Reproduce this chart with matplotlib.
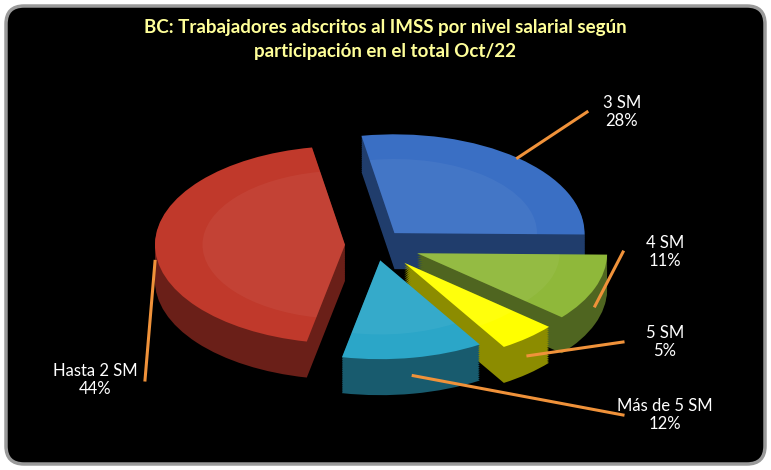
import matplotlib.pyplot as plt
import numpy as np
from matplotlib.patches import Wedge, FancyBboxPatch
from matplotlib.transforms import Affine2D
import matplotlib.colors as mcolors

plt.rcParams['font.family'] = ['Lato', 'DejaVu Sans']

labels = ["Hasta 2 SM", "Más de 5 SM", "5 SM", "4 SM", "3 SM"]
values = [44, 12, 5, 11, 28]
colors = ["#c0392b", "#2ba6c8", "#ffff00", "#8fb83a", "#3a6fc4"]
explode = [30, 30, 45, 45, 30]
label_pos = [(95, 380), (665, 415), (665, 342), (665, 252), (622, 112)]  # pixels

W, H = 771, 470
fig = plt.figure(figsize=(W / 100, H / 100), dpi=100)
fig.patch.set_facecolor("white")
ax = fig.add_axes([0, 0, 1, 1])
ax.set_xlim(0, W)
ax.set_ylim(0, H)
ax.axis("off")

ax.add_patch(FancyBboxPatch((6, 6), W - 12, H - 12, boxstyle="round,pad=0,rounding_size=18",
                            fc="black", ec="#9a9a9a", lw=2.5))

ax.text(W / 2, H - 40, "BC: Trabajadores adscritos al IMSS por nivel salarial según\nparticipación en el total Oct/22",
        ha="center", va="center", color="#ffff99", fontsize=13.5, fontweight="bold", linespacing=1.5)

cx, cy = 375, 225
r, ys, depth = 190, 0.52, 36
start = 100
angles = np.cumsum([0] + [v * 3.6 for v in values]) + start
base = Affine2D().scale(1, ys)

geo = []
for i in range(len(values)):
    t1, t2 = angles[i], angles[i + 1]
    mid = np.radians((t1 + t2) / 2)
    geo.append((t1, t2, mid, explode[i] * np.cos(mid), explode[i] * np.sin(mid)))

# back-to-front: draw slices ordered by front-ness
order = sorted(range(len(values)), key=lambda i: geo[i][4] + r * np.sin(geo[i][2]) * 0.3, reverse=True)
for i in order:
    t1, t2, mid, ox, oy = geo[i]
    c = colors[i]
    dark = np.array(mcolors.to_rgb(c)) * 0.55
    for d in np.linspace(depth, 1, 20):
        tr = base + Affine2D().translate(cx, cy - d) + ax.transData
        ax.add_patch(Wedge((ox, oy), r, t1, t2, fc=dark, ec="none", transform=tr))
    tr = base + Affine2D().translate(cx, cy) + ax.transData
    ax.add_patch(Wedge((ox, oy), r, t1, t2, fc=c, ec="none", transform=tr))
    light = np.array(mcolors.to_rgb(c)) * 0.6 + 0.4
    ax.add_patch(Wedge((ox, oy), r * 0.75, t1, t2, fc=light, ec="none", alpha=0.12, transform=tr))

# labels with leader lines
for (t1, t2, mid, ox, oy), lab, v, (px, py) in zip(geo, labels, values, label_pos):
    ex = cx + ox + r * np.cos(mid)
    ey = cy + (oy + r * np.sin(mid)) * ys - (depth / 2 if np.sin(mid) < 0.3 else 0)
    ty = H - py
    right = px > cx
    lx = px - (42 if v < 20 else 35) if right else px + 50
    ax.plot([ex, lx], [ey, ty], color="#f0923a", lw=2.2)
    ax.text(px, ty, f"{lab}\n{v}%", ha="center", va="center", color="white", fontsize=12)

fig.savefig("out.png", dpi=100, facecolor="white")
